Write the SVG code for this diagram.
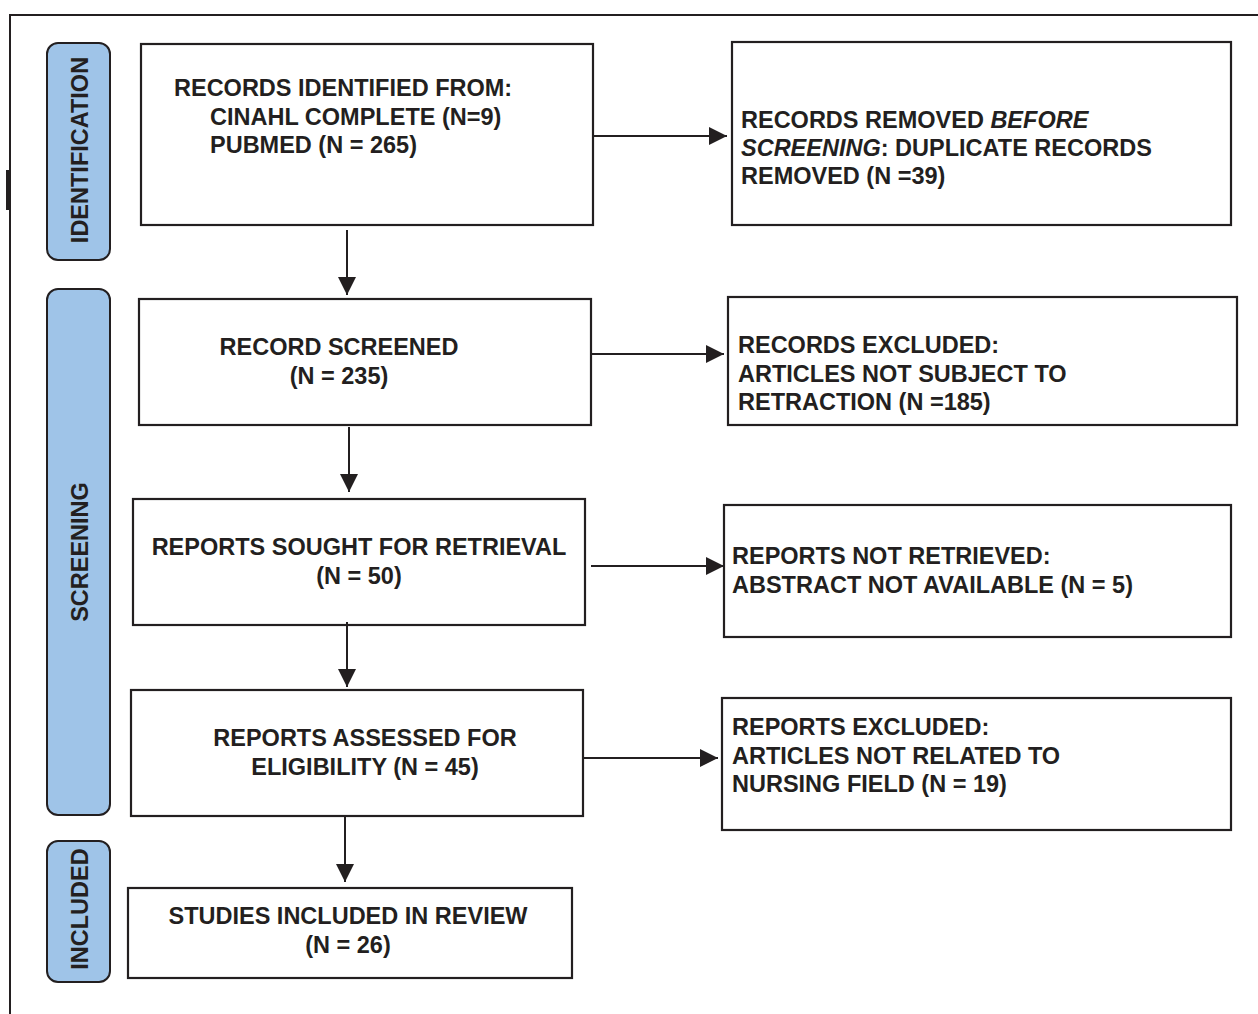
<svg xmlns="http://www.w3.org/2000/svg" width="1258" height="1014" viewBox="0 0 1258 1014">
<defs>
<style>
.box{fill:#fff;stroke:#231f20;stroke-width:2.2}
.phase{fill:#9fc4e8;stroke:#231f20;stroke-width:2}
.t{font-family:"Liberation Sans",Arial,sans-serif;font-weight:bold;font-size:23.5px;fill:#231f20}
.c{text-anchor:middle}
.ln{stroke:#231f20;stroke-width:2;fill:none}
</style>
<marker id="ah" viewBox="0 0 10 10" refX="10" refY="5" markerWidth="18" markerHeight="18" markerUnits="userSpaceOnUse" orient="auto">
<path d="M0,0 L10,5 L0,10 Z" fill="#231f20"/>
</marker>
</defs>
<rect width="1258" height="1014" fill="#fff"/>
<g id="frame">
<path d="M10,1014 L10,15 L1258,15" class="ln"/>
<rect x="6" y="170" width="4" height="40" fill="#231f20"/>
</g>
<g id="phase-identification">
<rect class="phase" x="47" y="43" width="63" height="217" rx="11"/>
<text class="t c" transform="translate(88,150) rotate(-90)">IDENTIFICATION</text>
</g>
<g id="phase-screening">
<rect class="phase" x="47" y="289" width="63" height="526" rx="11"/>
<text class="t c" transform="translate(88,552) rotate(-90)">SCREENING</text>
</g>
<g id="phase-included">
<rect class="phase" x="47" y="841" width="63" height="141" rx="11"/>
<text class="t c" transform="translate(88,909) rotate(-90)">INCLUDED</text>
</g>
<g id="n1">
<rect class="box" x="141" y="44" width="452" height="181"/>
<text class="t" x="174" y="96">RECORDS IDENTIFIED FROM:</text>
<text class="t" x="210" y="125">CINAHL COMPLETE (N=9)</text>
<text class="t" x="210" y="153">PUBMED (N = 265)</text>
</g>
<g id="n2">
<rect class="box" x="732" y="42" width="499" height="183"/>
<text class="t" x="741" y="128">RECORDS REMOVED <tspan font-style="italic">BEFORE</tspan></text>
<text class="t" x="741" y="156"><tspan font-style="italic">SCREENING</tspan>: DUPLICATE RECORDS</text>
<text class="t" x="741" y="184">REMOVED (N =39)</text>
</g>
<g id="n3">
<rect class="box" x="139" y="299" width="452" height="126"/>
<text class="t c" x="339" y="355">RECORD SCREENED</text>
<text class="t c" x="339" y="384">(N = 235)</text>
</g>
<g id="n4">
<rect class="box" x="728" y="297" width="509" height="128"/>
<text class="t" x="738" y="353">RECORDS EXCLUDED:</text>
<text class="t" x="738" y="382">ARTICLES NOT SUBJECT TO</text>
<text class="t" x="738" y="410">RETRACTION (N =185)</text>
</g>
<g id="n5">
<rect class="box" x="133" y="499" width="452" height="126"/>
<text class="t c" x="359" y="555">REPORTS SOUGHT FOR RETRIEVAL</text>
<text class="t c" x="359" y="584">(N = 50)</text>
</g>
<g id="n6">
<rect class="box" x="724" y="505" width="507" height="132"/>
<text class="t" x="732" y="564">REPORTS NOT RETRIEVED:</text>
<text class="t" x="732" y="593">ABSTRACT NOT AVAILABLE (N = 5)</text>
</g>
<g id="n7">
<rect class="box" x="131" y="690" width="452" height="126"/>
<text class="t c" x="365" y="746">REPORTS ASSESSED FOR</text>
<text class="t c" x="365" y="775">ELIGIBILITY (N = 45)</text>
</g>
<g id="n8">
<rect class="box" x="722" y="698" width="509" height="132"/>
<text class="t" x="732" y="735">REPORTS EXCLUDED:</text>
<text class="t" x="732" y="764">ARTICLES NOT RELATED TO</text>
<text class="t" x="732" y="792">NURSING FIELD (N = 19)</text>
</g>
<g id="n9">
<rect class="box" x="128" y="888" width="444" height="90"/>
<text class="t c" x="348" y="924">STUDIES INCLUDED IN REVIEW</text>
<text class="t c" x="348" y="953">(N = 26)</text>
</g>
<g id="connectors">
<line class="ln" x1="347" y1="230" x2="347" y2="295" marker-end="url(#ah)"/>
<line class="ln" x1="349" y1="427" x2="349" y2="492" marker-end="url(#ah)"/>
<line class="ln" x1="347" y1="622" x2="347" y2="687" marker-end="url(#ah)"/>
<line class="ln" x1="345" y1="816" x2="345" y2="882" marker-end="url(#ah)"/>
<line class="ln" x1="593" y1="136" x2="727" y2="136" marker-end="url(#ah)"/>
<line class="ln" x1="591" y1="354" x2="724" y2="354" marker-end="url(#ah)"/>
<line class="ln" x1="591" y1="566" x2="724" y2="566" marker-end="url(#ah)"/>
<line class="ln" x1="583" y1="758" x2="718" y2="758" marker-end="url(#ah)"/>
</g>
</svg>
